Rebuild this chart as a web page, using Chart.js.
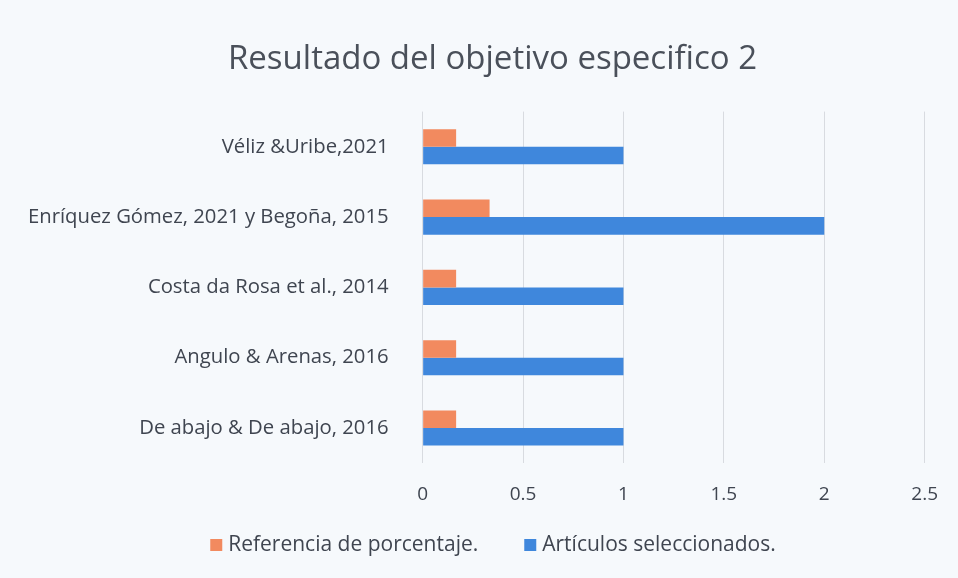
<!DOCTYPE html>
<html>
<head>
<meta charset="utf-8">
<script src="https://cdn.jsdelivr.net/npm/chart.js@4"></script>
<style>
  html,body{margin:0;padding:0;background:#f6f9fc;}
  #wrap{width:958px;height:578px;}
</style>
</head>
<body>
<div id="wrap"><canvas id="chart" width="958" height="578"></canvas></div>
<script>
const categories=["Véliz &Uribe,2021","Enríquez Gómez, 2021 y Begoña, 2015","Costa da Rosa et al., 2014","Angulo & Arenas, 2016","De abajo & De abajo, 2016"]
const referencia=[0.1667,0.3333,0.1667,0.1667,0.1667]
const articulos=[1,2,1,1,1]
const xTicks=[0,0.5,1,1.5,2,2.5]

const textColor="#3f4550"

// legend drawn by hand so the gap between the two items can match the original
const bottomLegend={
  id:"bottomLegend",
  afterLayout(chart){
    // title in the original sits a bit right of the canvas centre
    if(chart.titleBlock){chart.titleBlock.left+=58}
  },
  afterDraw(chart){
    const ctx=chart.ctx
    ctx.save()
    ctx.font="21px 'Open Sans'"
    ctx.textBaseline="middle"
    const box=12,boxGap=6,itemGap=46
    const items=chart.data.datasets.map(d=>({text:d.label,color:d.backgroundColor,w:ctx.measureText(d.label).width}))
    let total=items.reduce((s,it)=>s+box+boxGap+it.w,0)+itemGap*(items.length-1)
    let x=493-total/2
    const y=545
    items.forEach(it=>{
      ctx.fillStyle=it.color
      ctx.fillRect(x,y-box/2,box,box)
      ctx.fillStyle=textColor
      ctx.fillText(it.text,x+box+boxGap,y)
      x+=box+boxGap+it.w+itemGap
    })
    ctx.restore()
  }
}

new Chart(document.getElementById("chart"),{
  type:"bar",
  data:{
    labels:categories,
    datasets:[
      {label:"Referencia de porcentaje.",data:referencia,backgroundColor:"#f28a5f",categoryPercentage:0.5,barPercentage:1},
      {label:"Artículos seleccionados.",data:articulos,backgroundColor:"#3f87dc",categoryPercentage:0.5,barPercentage:1}
    ]
  },
  options:{
    indexAxis:"y",
    responsive:false,
    animation:false,
    layout:{padding:{left:2,right:33,top:10,bottom:52}},
    scales:{
      x:{
        min:0,max:2.5,
        afterBuildTicks:ax=>{ax.ticks=xTicks.map(v=>({value:v}))},
        grid:{color:"#d8dbe0",drawTicks:false},
        border:{display:false},
        ticks:{color:textColor,font:{family:"Open Sans",size:19},padding:20,callback:v=>String(v)}
      },
      y:{
        grid:{display:false},
        border:{display:false},
        ticks:{color:textColor,font:{family:"Open Sans",size:20.3},padding:26}
      }
    },
    plugins:{
      title:{display:true,text:"Resultado del objetivo especifico 2",color:"#4a505a",font:{family:"Open Sans",size:33,weight:"normal"},padding:{top:30,bottom:32}},
      legend:{display:false},
      tooltip:{enabled:false}
    }
  },
  plugins:[bottomLegend]
})
</script>
</body>
</html>
